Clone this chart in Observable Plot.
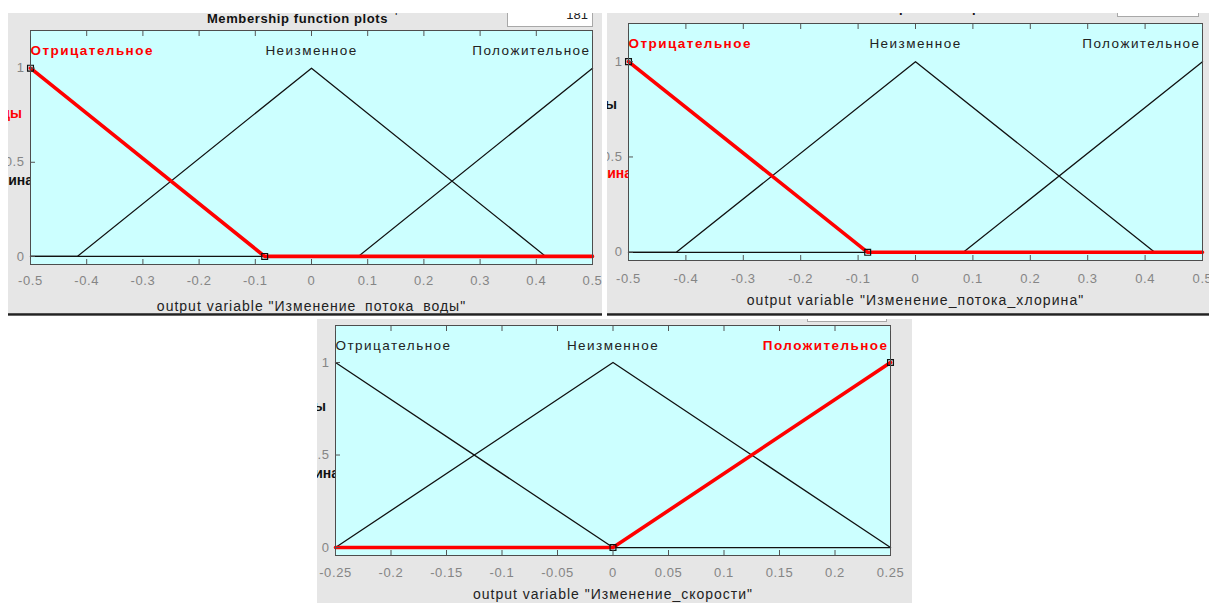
<!DOCTYPE html>
<html><head><meta charset="utf-8">
<script src="https://cdn.jsdelivr.net/npm/d3@7"></script>
<script src="https://cdn.jsdelivr.net/npm/@observablehq/plot@0.6"></script>
<style>
html,body{margin:0;padding:0;background:#fff;}
body{width:1209px;height:603px;overflow:hidden;font-family:"Liberation Sans",Arial,sans-serif;}
#root{position:relative;width:1209px;height:603px;background:#fff;}
.panel{position:absolute;background:#e6e6e6;overflow:hidden;}
.panel svg{position:absolute;left:0;top:0;overflow:visible;}
.frag{position:absolute;font:bold 14px "Liberation Sans",Arial,sans-serif;white-space:nowrap;transform:translate(-100%,-50%);}
.box{position:absolute;background:#fff;border:1px solid #a8a8a8;box-sizing:border-box;font:13px "Liberation Sans",Arial,sans-serif;text-align:right;padding-right:4px;color:#222;}
.dark{position:absolute;height:3px;background:linear-gradient(#666,#222,#888);}
</style></head>
<body><div id="root"></div>
<script>
// ---- data ----
const mfNames = ["Отрицательное", "Неизменное", "Положительное"];
const yTicks = [0, 0.5, 1];
const chartTitle = "Membership function plots";

// panel 1: Изменение_потока_воды
const p1Range = [-0.5, 0.5];
const p1Ticks = [-0.5, -0.4, -0.3, -0.2, -0.1, 0, 0.1, 0.2, 0.3, 0.4, 0.5];
const p1NegX = [-0.5, -0.0833, 0.5];
const p1NegY = [1, 0, 0];
const p1ZeroX = [-0.5, -0.4167, 0, 0.4167, 0.5];
const p1ZeroY = [0, 0, 1, 0, 0];
const p1PosX = [-0.5, 0.0833, 0.5];
const p1PosY = [0, 0, 1];
const p1Selected = 0;
const p1MarkX = [-0.5, -0.0833];
const p1MarkY = [1, 0];
const p1Label = 'output variable "Изменение_потока_воды"';

// panel 2: Изменение_потока_хлорина
const p2Range = [-0.5, 0.5];
const p2Ticks = [-0.5, -0.4, -0.3, -0.2, -0.1, 0, 0.1, 0.2, 0.3, 0.4, 0.5];
const p2NegX = [-0.5, -0.0833, 0.5];
const p2NegY = [1, 0, 0];
const p2ZeroX = [-0.5, -0.4167, 0, 0.4167, 0.5];
const p2ZeroY = [0, 0, 1, 0, 0];
const p2PosX = [-0.5, 0.0833, 0.5];
const p2PosY = [0, 0, 1];
const p2Selected = 0;
const p2MarkX = [-0.5, -0.0833];
const p2MarkY = [1, 0];
const p2Label = 'output variable "Изменение_потока_хлорина"';

// panel 3: Изменение_скорости
const p3Range = [-0.25, 0.25];
const p3Ticks = [-0.25, -0.2, -0.15, -0.1, -0.05, 0, 0.05, 0.1, 0.15, 0.2, 0.25];
const p3NegX = [-0.25, 0, 0.25];
const p3NegY = [1, 0, 0];
const p3ZeroX = [-0.25, 0, 0.25];
const p3ZeroY = [0, 1, 0];
const p3PosX = [-0.25, 0, 0.25];
const p3PosY = [0, 0, 1];
const p3Selected = 2;
const p3MarkX = [0, 0.25];
const p3MarkY = [0, 1];
const p3Label = 'output variable "Изменение_скорости"';

// ---- drawing ----
const FONT = '"Liberation Sans", Arial, sans-serif';
const zip = (xs, ys) => xs.map((x, i) => ({x, y: ys[i]}));

function makeChart(cfg) {
  const mfs = [zip(cfg.negX, cfg.negY), zip(cfg.zeroX, cfg.zeroY), zip(cfg.posX, cfg.posY)];
  const peaks = mfs.map((pts, i) => {
    const p = pts.find(d => d.y === 1);
    const anchor = p.x === cfg.range[0] ? "start" : p.x === cfg.range[1] ? "end" : "middle";
    return {name: mfNames[i], x: p.x, anchor, sel: i === cfg.selected};
  });
  const marks = [Plot.frame({fill: "#ccffff", stroke: "none"})];
  mfs.forEach((pts, i) => {
    if (i !== cfg.selected) marks.push(Plot.line(pts, {x: "x", y: "y", stroke: "#111", strokeWidth: 1.3}));
  });
  marks.push(Plot.line(mfs[cfg.selected], {x: "x", y: "y", stroke: "#ff0000", strokeWidth: 3.6}));
  marks.push(Plot.dot(zip(cfg.markX, cfg.markY), {x: "x", y: "y", symbol: "square", r: 3.3, stroke: "#111", strokeWidth: 1.2, fill: "none"}));
  marks.push(Plot.frame({stroke: "#4d4d4d", strokeWidth: 1}));
  // inward ticks
  marks.push(Plot.axisX(cfg.ticks, {anchor: "bottom", tickSize: 5, dy: -5, fill: "none", stroke: "#555", label: null}));
  marks.push(Plot.axisX(cfg.ticks, {anchor: "top", tickSize: 5, dy: 5, fill: "none", stroke: "#555", label: null}));
  marks.push(Plot.axisY(yTicks, {anchor: "left", tickSize: 5, dx: 5, fill: "none", stroke: "#555", label: null}));
  // tick labels
  marks.push(Plot.axisX(cfg.ticks, {anchor: "bottom", tickSize: 0, tickPadding: cfg.xPad, tickFormat: d => String(d), fill: "#858585", fontSize: 13, label: null}));
  marks.push(Plot.axisY(yTicks, {anchor: "left", tickSize: 0, tickPadding: 6, tickFormat: d => String(d), fill: "#858585", fontSize: 13, label: null}));
  // MF names (one text mark per anchor)
  for (const anchor of ["start", "middle", "end"]) {
    for (const sel of [false, true]) {
      const rows = peaks.filter(d => d.anchor === anchor && d.sel === sel);
      if (!rows.length) continue;
      marks.push(Plot.text(rows, {
        x: "x", text: "name", textAnchor: anchor, frameAnchor: "top", dy: 20,
        dx: anchor === "start" ? 0 : anchor === "end" ? -2 : 0,
        fill: sel ? "#ff0000" : "#222", fontWeight: sel ? "bold" : "normal",
        fontSize: 13.5, lineAnchor: "middle", ariaDescription: "mf-label"
      }));
    }
  }
  // x label and title
  marks.push(Plot.text([cfg.label], {text: d => d, frameAnchor: "bottom", dy: cfg.labelDy, fill: "#222", fontSize: 14, lineAnchor: "middle", ariaDescription: "x-label"}));
  marks.push(Plot.text([chartTitle], {text: d => d, frameAnchor: "top", dy: cfg.titleDy, dx: cfg.titleDx, fill: "#111", fontSize: 13, fontWeight: "bold", lineAnchor: "middle", ariaDescription: "title"}));

  const svg = Plot.plot({
    width: cfg.w, height: cfg.h,
    marginLeft: cfg.ml, marginRight: cfg.mr, marginTop: cfg.mt, marginBottom: cfg.mb,
    style: {background: "transparent", fontFamily: FONT, overflow: "visible", letterSpacing: "0.6px"},
    x: {domain: cfg.range},
    y: {domain: [-0.043, 1.2]},
    marks
  });
  svg.querySelectorAll('[aria-description="mf-label"]').forEach(g => g.style.letterSpacing = "1.45px");
  svg.querySelectorAll('[aria-description="x-label"]').forEach(g => g.style.letterSpacing = cfg.labelSpacing);
  svg.querySelectorAll('[aria-description="title"]').forEach(g => g.style.letterSpacing = "0.6px");
  return svg;
}

const root = document.getElementById("root");
function addPanel(p, cfg) {
  const div = document.createElement("div");
  div.className = "panel";
  Object.assign(div.style, {left: p.left + "px", top: p.top + "px", width: p.w + "px", height: p.h + "px"});
  for (const f of p.frags) {
    const s = document.createElement("div");
    s.className = "frag";
    s.textContent = f.text;
    Object.assign(s.style, {left: f.x + "px", top: f.y + "px", color: f.color});
    div.appendChild(s);
  }
  if (p.box) {
    const b = document.createElement("div");
    b.className = "box";
    Object.assign(b.style, {left: p.box.x + "px", top: p.box.y + "px", width: p.box.w + "px", height: p.box.h + "px", lineHeight: p.box.h + "px"});
    b.textContent = p.box.text || "";
    div.appendChild(b);
  }
  if (p.note) {
    const n = document.createElement("div");
    Object.assign(n.style, {position: "absolute", left: p.note.x + "px", top: p.note.y + "px", font: "11px " + FONT, color: "#222"});
    n.textContent = p.note.text;
    div.appendChild(n);
  }
  div.appendChild(makeChart({...cfg, w: p.w, h: p.h}));
  root.appendChild(div);
  if (p.dark) {
    const d = document.createElement("div");
    d.className = "dark";
    Object.assign(d.style, {left: p.left + "px", top: (p.top + p.h) + "px", width: p.w + "px"});
    root.appendChild(d);
  }
}

addPanel({left: 8, top: 13, w: 594, h: 300, dark: true,
  frags: [{text: "воды", x: 14, y: 100, color: "#ff0000"}, {text: "хлорина", x: 25, y: 167, color: "#111"}],
  box: {x: 499, y: -12, w: 86, h: 26, text: "181"},
  note: {x: 365, y: -10, text: "Plot points:"}},
  {range: p1Range, ticks: p1Ticks, negX: p1NegX, negY: p1NegY, zeroX: p1ZeroX, zeroY: p1ZeroY, posX: p1PosX, posY: p1PosY,
   selected: p1Selected, markX: p1MarkX, markY: p1MarkY, label: p1Label, labelSpacing: "1px",
   ml: 22, mr: 10, mt: 17, mb: 49, xPad: 11, labelDy: 42, titleDy: -12, titleDx: -14});

addPanel({left: 607, top: 13, w: 602, h: 300, dark: true,
  frags: [{text: "воды", x: 10, y: 91, color: "#111"}, {text: "хлорина", x: 25, y: 160, color: "#ff0000"}],
  box: {x: 510, y: -16, w: 82, h: 20, text: ""},
  note: null},
  {range: p2Range, ticks: p2Ticks, negX: p2NegX, negY: p2NegY, zeroX: p2ZeroX, zeroY: p2ZeroY, posX: p2PosX, posY: p2PosY,
   selected: p2Selected, markX: p2MarkX, markY: p2MarkY, label: p2Label, labelSpacing: "1.1px",
   ml: 21, mr: 7, mt: 10, mb: 53, xPad: 13, labelDy: 40, titleDy: -16, titleDx: 0});

addPanel({left: 317, top: 319, w: 595, h: 284, dark: false,
  frags: [{text: "воды", x: 9, y: 87, color: "#111"}, {text: "хлорина", x: 22, y: 154, color: "#111"}],
  box: {x: 490, y: -16, w: 80, h: 19, text: ""},
  note: null},
  {range: p3Range, ticks: p3Ticks, negX: p3NegX, negY: p3NegY, zeroX: p3ZeroX, zeroY: p3ZeroY, posX: p3PosX, posY: p3PosY,
   selected: p3Selected, markX: p3MarkX, markY: p3MarkY, label: p3Label, labelSpacing: "1px",
   ml: 18, mr: 22, mt: 6, mb: 48, xPad: 12, labelDy: 39, titleDy: -30, titleDx: 0});
</script>
</body></html>
